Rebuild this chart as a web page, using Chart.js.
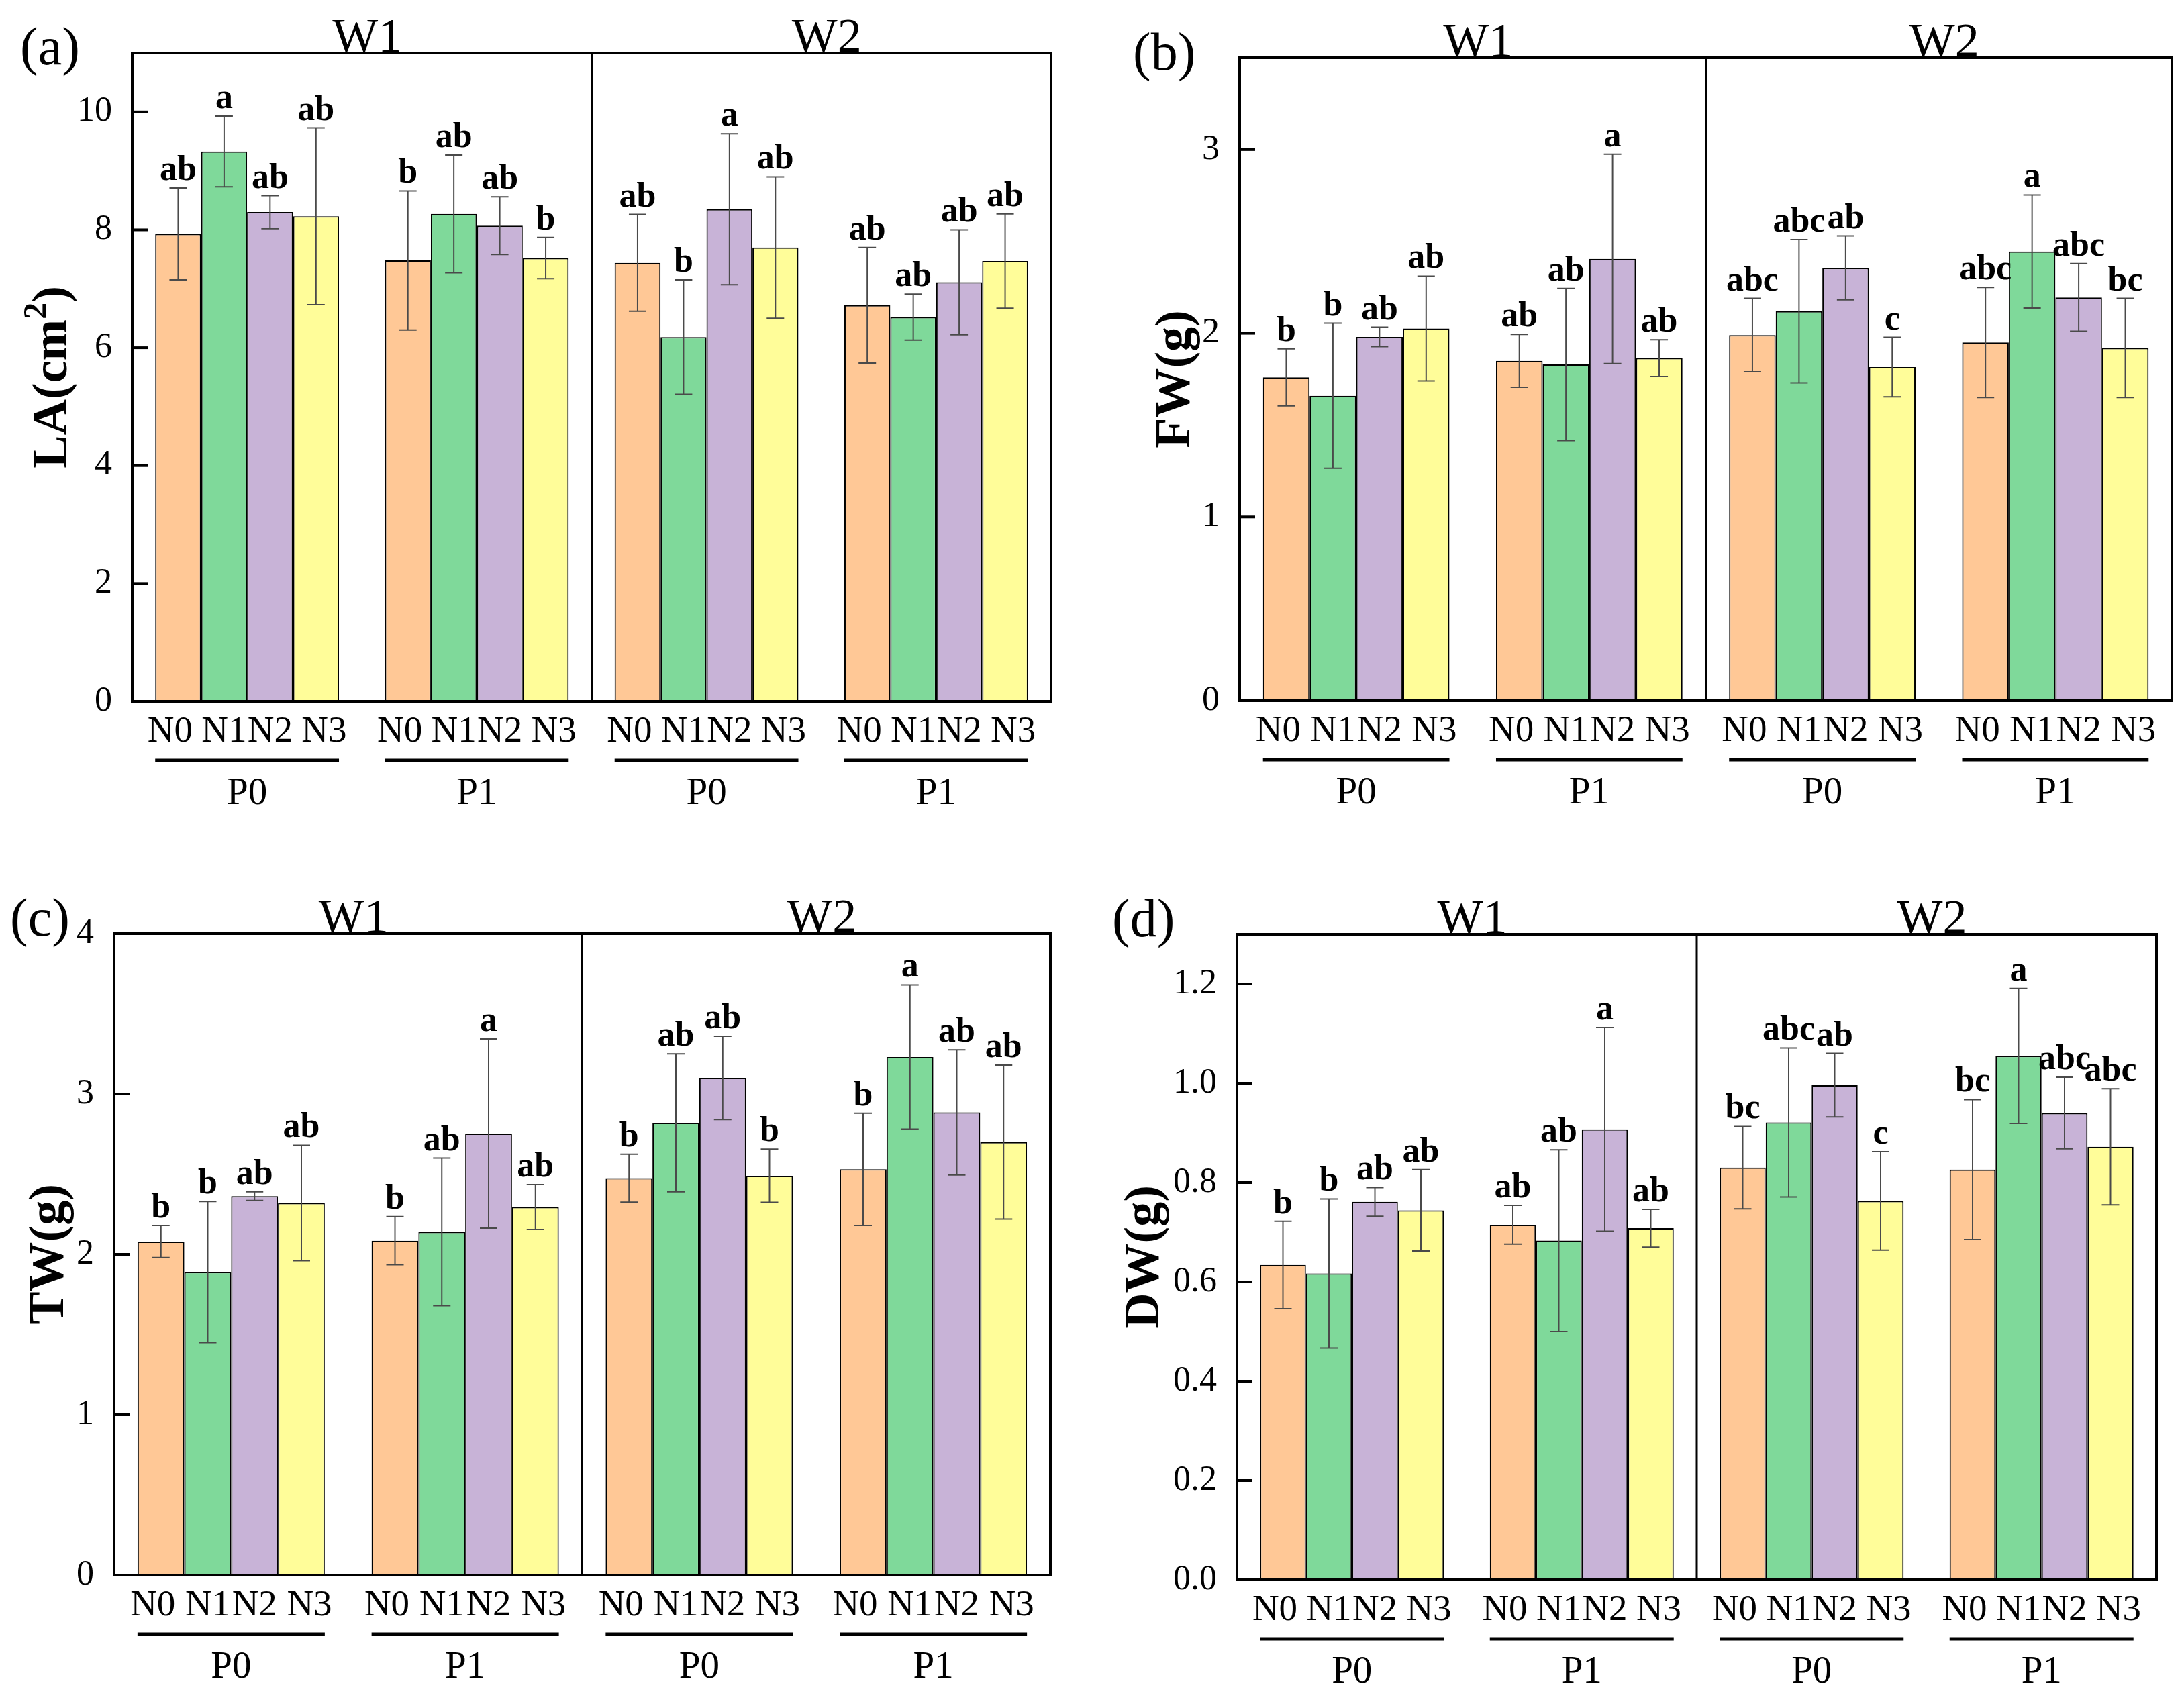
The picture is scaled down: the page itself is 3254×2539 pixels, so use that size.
<!DOCTYPE html>
<html>
<head>
<meta charset="utf-8">
<script src="https://cdn.jsdelivr.net/npm/chart.js@4.4.1/dist/chart.umd.min.js"></script>
<style>
  body { margin: 0; background: #fff; }
  #wrap { position: relative; width: 3254px; height: 2539px; background: #fff; }
  #wrap canvas { position: absolute; }
</style>
</head>
<body>
<div id="wrap">
  <canvas id="cA" width="1627" height="1270" style="left:0;top:0"></canvas>
  <canvas id="cB" width="1627" height="1270" style="left:1627px;top:0"></canvas>
  <canvas id="cC" width="1627" height="1269" style="left:0;top:1270px"></canvas>
  <canvas id="cD" width="1627" height="1269" style="left:1627px;top:1270px"></canvas>
</div>
<script>
// groups along the x axis (water level + phosphorus level)
const groups = ['W1-P0', 'W1-P1', 'W2-P0', 'W2-P1'];
const waterLabels = ['W1', 'W2'];
const pLabels = ['P0', 'P1', 'P0', 'P1'];
const nLevels = ['N0', 'N1', 'N2', 'N3'];
const nColors = ['#FFC896', '#7FD99A', '#C8B3D7', '#FFFD99'];

// (a) leaf area, rows = N0..N3, columns = groups
const laMean = [[7.93, 7.48, 7.44, 6.72], [9.33, 8.27, 6.18, 6.52], [8.30, 8.07, 8.35, 7.11], [8.23, 7.52, 7.70, 7.47]];
const laSd = [[0.78, 1.18, 0.82, 0.98], [0.60, 1.00, 0.97, 0.39], [0.28, 0.49, 1.28, 0.89], [1.50, 0.35, 1.20, 0.80]];
const laSig = [['ab', 'b', 'ab', 'ab'], ['a', 'ab', 'b', 'ab'], ['ab', 'ab', 'a', 'ab'], ['ab', 'b', 'ab', 'ab']];
const laTicks = [0, 2, 4, 6, 8, 10];

// (b) fresh weight
const fwMean = [[1.76, 1.85, 1.99, 1.95], [1.66, 1.83, 2.12, 2.445], [1.98, 2.405, 2.356, 2.195], [2.026, 1.865, 1.816, 1.92]];
const fwSd = [[0.155, 0.144, 0.20, 0.30], [0.395, 0.414, 0.39, 0.308], [0.053, 0.57, 0.174, 0.184], [0.285, 0.10, 0.162, 0.27]];
const fwSig = [['b', 'ab', 'abc', 'abc'], ['b', 'ab', 'abc', 'a'], ['ab', 'a', 'ab', 'abc'], ['ab', 'ab', 'c', 'bc']];
const fwTicks = [0, 1, 2, 3];

// (c) total weight
const twMean = [[2.08, 2.085, 2.475, 2.53], [1.89, 2.14, 2.82, 3.23], [2.363, 2.753, 3.10, 2.885], [2.32, 2.295, 2.49, 2.70]];
const twSd = [[0.10, 0.15, 0.15, 0.35], [0.44, 0.46, 0.43, 0.45], [0.027, 0.59, 0.26, 0.39], [0.36, 0.14, 0.166, 0.48]];
const twSig = [['b', 'b', 'b', 'b'], ['b', 'ab', 'ab', 'a'], ['ab', 'a', 'ab', 'ab'], ['ab', 'ab', 'b', 'ab']];
const twTicks = [0, 1, 2, 3, 4];

// (d) dry weight
const dwMean = [[0.634, 0.715, 0.830, 0.826], [0.617, 0.683, 0.921, 1.055], [0.761, 0.907, 0.996, 0.940], [0.744, 0.708, 0.763, 0.872]];
const dwSd = [[0.088, 0.039, 0.083, 0.141], [0.15, 0.183, 0.15, 0.136], [0.029, 0.205, 0.064, 0.072], [0.082, 0.038, 0.099, 0.117]];
const dwSig = [['b', 'ab', 'bc', 'bc'], ['b', 'ab', 'abc', 'a'], ['ab', 'a', 'ab', 'abc'], ['ab', 'ab', 'c', 'abc']];
const dwTicks = [0, 0.2, 0.4, 0.6, 0.8, 1.0, 1.2];

const FONT = '"Liberation Serif", "Times New Roman", serif';

// y title, with an optional superscript part: [base, sup, tail]
function drawTitle(ctx, parts) {
    const big = 'bold 74px ' + FONT, small = 'bold 50px ' + FONT;
    ctx.font = big;
    const w0 = ctx.measureText(parts[0]).width;
    const w2 = ctx.measureText(parts[2]).width;
    ctx.font = small;
    const w1 = parts[1] ? ctx.measureText(parts[1]).width : 0;
    let x = -(w0 + w1 + w2) / 2;
    ctx.textAlign = 'left';
    ctx.textBaseline = 'alphabetic';
    ctx.font = big;
    ctx.fillText(parts[0], x, 26);
    x += w0;
    if (parts[1]) {
        ctx.font = small;
        ctx.fillText(parts[1], x, -4);
        x += w1;
    }
    ctx.font = big;
    ctx.fillText(parts[2], x, 26);
}

function decorPlugin(p) {
    return {
        id: 'decor',
        afterDraw(chart) {
            const ctx = chart.ctx;
            const a = chart.chartArea;
            const xs = chart.scales.x;
            const ys = chart.scales.y;
            ctx.save();
            ctx.strokeStyle = '#000';
            ctx.fillStyle = '#000';

            // error bars and letters
            for (let i = 0; i < nLevels.length; i++) {
                const meta = chart.getDatasetMeta(i);
                meta.data.forEach((bar, j) => {
                    const m = p.mean[i][j], s = p.sd[i][j];
                    const yt = ys.getPixelForValue(m + s);
                    const yb = ys.getPixelForValue(m - s);
                    ctx.strokeStyle = '#4a4a4a';
                    ctx.lineWidth = 2;
                    ctx.beginPath();
                    ctx.moveTo(bar.x, yt); ctx.lineTo(bar.x, yb);
                    ctx.moveTo(bar.x - 13, yt); ctx.lineTo(bar.x + 13, yt);
                    ctx.moveTo(bar.x - 13, yb); ctx.lineTo(bar.x + 13, yb);
                    ctx.stroke();
                    ctx.font = 'bold 52px ' + FONT;
                    ctx.textAlign = 'center';
                    ctx.textBaseline = 'alphabetic';
                    ctx.fillText(p.sig[i][j], bar.x, yt - 12);
                });
            }

            // frame, divider, inward ticks
            ctx.strokeStyle = '#000';
            ctx.lineWidth = 4;
            ctx.strokeRect(a.left, a.top, a.right - a.left, a.bottom - a.top);
            const mid = (xs.getPixelForValue(1) + xs.getPixelForValue(2)) / 2;
            ctx.lineWidth = 3;
            ctx.beginPath();
            ctx.moveTo(mid, a.top); ctx.lineTo(mid, a.bottom);
            ctx.stroke();
            ctx.lineWidth = 4;
            p.ticks.forEach(v => {
                const y = ys.getPixelForValue(v);
                ctx.beginPath();
                ctx.moveTo(a.left, y); ctx.lineTo(a.left + 23, y);
                ctx.stroke();
            });

            // N labels, P underline and labels
            const nShift = [-12, 0, 0, 12];
            ctx.textAlign = 'center';
            ctx.textBaseline = 'middle';
            for (let j = 0; j < groups.length; j++) {
                let x0 = Infinity, x1 = -Infinity;
                for (let i = 0; i < nLevels.length; i++) {
                    const bar = chart.getDatasetMeta(i).data[j];
                    x0 = Math.min(x0, bar.x - bar.width / 2);
                    x1 = Math.max(x1, bar.x + bar.width / 2);
                    ctx.font = '55px ' + FONT;
                    ctx.fillText(nLevels[i], bar.x + nShift[i], a.bottom + 46);
                }
                ctx.lineWidth = 5;
                ctx.beginPath();
                ctx.moveTo(x0, a.bottom + 88); ctx.lineTo(x1, a.bottom + 88);
                ctx.stroke();
                ctx.font = '57px ' + FONT;
                ctx.fillText(pLabels[j], (x0 + x1) / 2, a.bottom + 138);
            }

            // W1 / W2 titles
            ctx.font = '72px ' + FONT;
            ctx.textBaseline = 'alphabetic';
            ctx.fillText(waterLabels[0], (a.left + mid) / 2 + 8, a.top - 2);
            ctx.fillText(waterLabels[1], (mid + a.right) / 2 + 8, a.top - 2);

            // panel letter
            ctx.font = '80px ' + FONT;
            ctx.textAlign = 'left';
            ctx.fillText(p.label, p.labelX, p.labelY);

            // y axis title
            ctx.translate(p.titleX, (a.top + a.bottom) / 2);
            ctx.rotate(-Math.PI / 2);
            drawTitle(ctx, p.title);
            ctx.restore();
        }
    };
}

function makePanel(id, p) {
    const canvas = document.getElementById(id);
    const datasets = nLevels.map((n, i) => ({
        label: n,
        data: p.mean[i],
        backgroundColor: nColors[i],
        borderColor: '#000',
        borderWidth: 2,
        categoryPercentage: 0.8,
        barPercentage: 1.0
    }));
    return new Chart(canvas, {
        type: 'bar',
        data: { labels: groups, datasets: datasets },
        options: {
            responsive: false,
            devicePixelRatio: 1,
            animation: false,
            events: [],
            layout: {
                padding: {
                    left: 0,
                    top: p.top,
                    right: canvas.width - p.right,
                    bottom: canvas.height - p.bottom
                }
            },
            plugins: { legend: { display: false }, tooltip: { enabled: false } },
            scales: {
                x: { type: 'category', display: false, offset: true },
                y: {
                    min: 0,
                    max: p.yMax,
                    afterFit: s => { s.width = p.left; },
                    afterBuildTicks: s => { s.ticks = p.ticks.map(v => ({ value: v })); },
                    grid: { display: false, drawTicks: false },
                    border: { display: false },
                    ticks: {
                        autoSkip: false,
                        padding: 30,
                        color: '#000',
                        font: { family: FONT, size: 52 },
                        callback: v => Number(v).toFixed(p.decimals)
                    }
                }
            }
        },
        plugins: [decorPlugin(p)]
    });
}

makePanel('cA', { mean: laMean, sd: laSd, sig: laSig, ticks: laTicks, yMax: 11, decimals: 0,
    left: 197, top: 79, right: 1566, bottom: 1045,
    title: ['LA(cm', '2', ')'], titleX: 73, label: '(a)', labelX: 30, labelY: 96 });
makePanel('cB', { mean: fwMean, sd: fwSd, sig: fwSig, ticks: fwTicks, yMax: 3.5, decimals: 0,
    left: 220, top: 86, right: 1609, bottom: 1044,
    title: ['FW(g)', '', ''], titleX: 119, label: '(b)', labelX: 61, labelY: 104 });
makePanel('cC', { mean: twMean, sd: twSd, sig: twSig, ticks: twTicks, yMax: 4, decimals: 0,
    left: 170, top: 121, right: 1565, bottom: 1077,
    title: ['TW(g)', '', ''], titleX: 68, label: '(c)', labelX: 15, labelY: 124 });
makePanel('cD', { mean: dwMean, sd: dwSd, sig: dwSig, ticks: dwTicks, yMax: 1.3, decimals: 1,
    left: 216, top: 122, right: 1586, bottom: 1084,
    title: ['DW(g)', '', ''], titleX: 73, label: '(d)', labelX: 30, labelY: 125 });
</script>
</body>
</html>
